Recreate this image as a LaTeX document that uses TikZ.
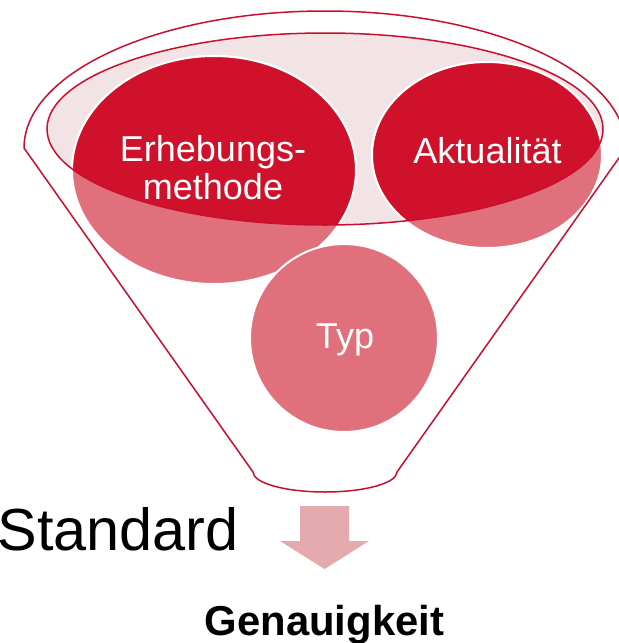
\documentclass[tikz,border=0pt]{standalone}
\usepackage{fontspec}
\setmainfont{Liberation Sans}
\usepackage{tikz}

\definecolor{funnelred}{HTML}{C8102E}
\definecolor{darkdisc}{HTML}{D0112B}
\definecolor{lightdisc}{HTML}{E0717C}
\definecolor{rimfill}{HTML}{F2E3E5}
\definecolor{arrowpink}{HTML}{E5AAAE}

\begin{document}
\begin{tikzpicture}[x=0.5pt, y=-0.5pt,
	funnelline/.style={draw=funnelred, line width=0.75pt, line join=round},
	disc/.style={draw=white, line width=1pt},
	disctext/.style={text=white, font=\fontsize{18}{19}\selectfont, inner sep=0pt, align=center}]
			\useasboundingbox (0,0) rectangle (619,643);

			% rim of the funnel
			\fill [rimfill] (325,129) ellipse [x radius=139pt, y radius=48pt];

			% the three discs, light outside the rim
			\fill [lightdisc, disc] (214,170) ellipse [x radius=71pt, y radius=57pt];
			\fill [lightdisc, disc] (487,155) ellipse [x radius=57.5pt, y radius=46.5pt];
			\fill [lightdisc, disc] (344,338) circle [radius=47pt];

			% ... and dark inside it
			\begin{scope}
				\clip (325,129) ellipse [x radius=139pt, y radius=48pt];
				\fill [darkdisc, disc] (214,170) ellipse [x radius=71pt, y radius=57pt];
				\fill [darkdisc, disc] (487,155) ellipse [x radius=57.5pt, y radius=46.5pt];
			\end{scope}

			\draw [funnelline] (325,129) ellipse [x radius=139pt, y radius=48pt];
			\draw [funnelline] (24,148) arc [start angle=180, end angle=0, x radius=150.5pt, y radius=68.5pt]
				-- (397,472) arc [start angle=0, end angle=-180, x radius=36pt, y radius=10pt] -- cycle;

			% arrow below the funnel
			\fill [arrowpink] (300,506) -- (349,506) -- (349,541) -- (369,541) -- (324.5,569)
				-- (280,541) -- (300,541) -- cycle;

			\node (erhebung) [disctext] at (213,167.6) {Erhebungs-\\methode};
			\node (aktualitaet) [disctext, anchor=base] at (487.5,163) {Aktualität};
			\node (typ) [disctext, anchor=base] at (345,348) {Typ};

			\node (standard) [anchor=base west, inner sep=0pt, font=\fontsize{29.7}{34}\selectfont] at (-3,550) {Standard};
			\node (genauigkeit) [anchor=base, inner sep=0pt, font=\fontsize{20.9}{24}\selectfont\bfseries] at (324.5,635) {Genauigkeit};
		\end{tikzpicture}
\end{document}
